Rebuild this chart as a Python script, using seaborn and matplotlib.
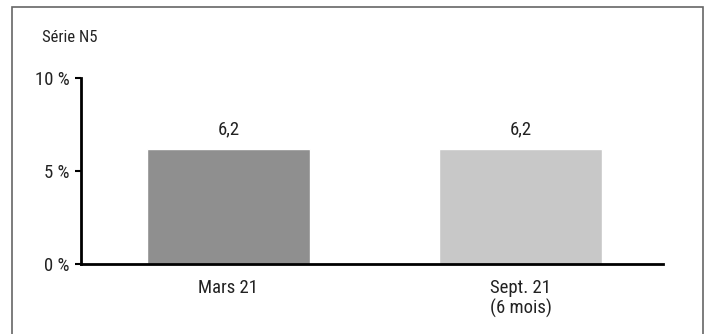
import matplotlib
matplotlib.use("Agg")
import matplotlib.pyplot as plt
import seaborn as sns
import pandas as pd
from matplotlib.patches import Rectangle
from matplotlib import font_manager

categories = ["Mars 21", "Sept. 21\n(6 mois)"]
values = [6.2, 6.2]
value_labels = ["6,2", "6,2"]
colors = ["#8f8f8f", "#c8c8c8"]
yticks = [0, 5, 10]
ytick_labels = ["0 %", "5 %", "10 %"]
title = "Série N5"

sns.set_theme(style="white")
avail = {f.name for f in font_manager.fontManager.ttflist}
fam = "Roboto Condensed" if "Roboto Condensed" in avail else "DejaVu Sans"
plt.rcParams["font.family"] = [fam, "DejaVu Sans"]
plt.rcParams["font.stretch"] = "condensed"

W, H = 711, 334
fig = plt.figure(figsize=(W / 100, H / 100), dpi=100)
ax = fig.add_axes([81 / W, 1 - 264 / H, (663 - 81) / W, (264 - 78) / H])

df = pd.DataFrame({"cat": categories, "val": values})
sns.barplot(data=df, x="cat", y="val", hue="cat", palette=colors, legend=False,
            width=0.558, ax=ax, saturation=1)

FS = 13.5
ax.set_xlim(-0.505, 1.488)
ax.set_ylim(0, 10)
ax.set_yticks(yticks)
ax.set_yticklabels(ytick_labels, fontsize=FS, color="#222222")
ax.tick_params(axis="y", length=4, width=1.5, color="black", pad=4, left=True)
ax.tick_params(axis="x", length=0, pad=11, labelsize=FS, labelcolor="#222222")
for lab in ax.get_xticklabels():
    lab.set_linespacing(1.1)
ax.set_xlabel("")
ax.set_ylabel("")
for s in ["top", "right"]:
    ax.spines[s].set_visible(False)
for s in ["left", "bottom"]:
    ax.spines[s].set_color("black")
    ax.spines[s].set_linewidth(2)

for i, (v, lab) in enumerate(zip(values, value_labels)):
    ax.text(i, v + 0.55, lab, ha="center", va="bottom", fontsize=FS, color="#222222")

fig.text(42 / W, 1 - 37 / H, title, ha="left", va="center", fontsize=12, color="#222222")

fig.patches.append(Rectangle((12 / W, -0.1), (703 - 12) / W, (1 - 7 / H) + 0.1,
                             transform=fig.transFigure, fill=False,
                             edgecolor="#666666", linewidth=1.2))

fig.savefig("out.png", dpi=100)
